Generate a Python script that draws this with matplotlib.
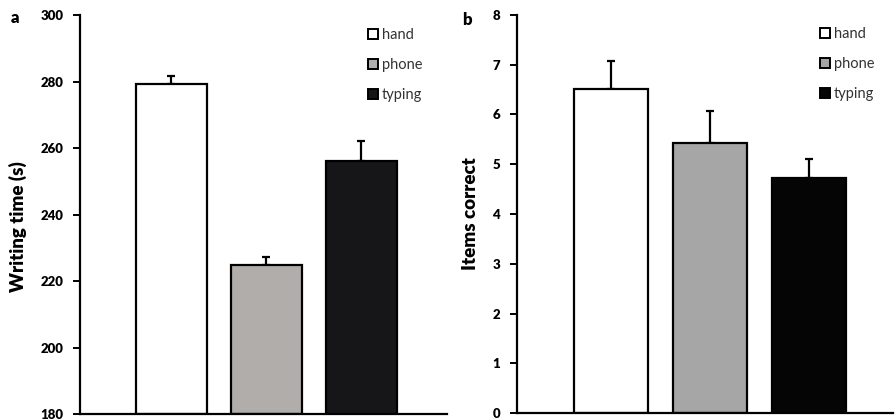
import matplotlib
matplotlib.use("Agg")
import matplotlib.pyplot as plt
from matplotlib.patches import Patch

plt.rcParams['font.family'] = ['Lato', 'DejaVu Sans']

categories = ["hand", "phone", "typing"]
time_means = [279.3, 224.8, 256.0]
time_err = [2.4, 2.5, 6.1]
items_means = [6.50, 5.43, 4.73]
items_err = [0.57, 0.63, 0.38]

colors_a = ["#ffffff", "#b1adab", "#161618"]
colors_b = ["#ffffff", "#a6a6a6", "#050505"]

fig = plt.figure(figsize=(8.96, 4.19), dpi=100)
W, H = 896, 419

def px_axes(l, r, t, b):
    return fig.add_axes([l / W, 1 - b / H, (r - l) / W, (b - t) / H])

ax_a = px_axes(80, 447, 15.3, 414)
ax_b = px_axes(516.7, 892.7, 14.7, 413.3)

def draw(ax, means, errs, colors, ylim, yticks, xlim, width, leg_anchor):
    x = list(range(len(means)))
    ax.bar(x, [m - ylim[0] for m in means], bottom=ylim[0], width=width,
           color=colors, edgecolor="black", linewidth=1.6, zorder=2)
    ax.errorbar(x, means, yerr=[[0] * len(errs), errs], fmt="none",
                ecolor="black", elinewidth=1.6, capsize=3, capthick=1.6, zorder=1)
    ax.set_ylim(*ylim)
    ax.set_xlim(*xlim)
    ax.set_yticks(yticks)
    ax.set_xticks([])
    for s in ["top", "right"]:
        ax.spines[s].set_visible(False)
    for s in ["left", "bottom"]:
        ax.spines[s].set_linewidth(1.6)
    ax.tick_params(axis="y", direction="out", length=5, width=1.4, pad=7,
                   labelsize=9.5)
    for lbl in ax.get_yticklabels():
        lbl.set_fontweight("heavy")
    handles = [Patch(facecolor=c, edgecolor="black", linewidth=1.4) for c in colors]
    leg = ax.legend(handles, categories, loc="upper left", frameon=False,
                    fontsize=10.5, handlelength=0.7, handleheight=0.7,
                    handletextpad=0.25, labelspacing=1.1,
                    bbox_to_anchor=leg_anchor, borderaxespad=0, borderpad=0)
    for t in leg.get_texts():
        t.set_color("#333333")

draw(ax_a, time_means, time_err, colors_a, (180, 300), [180, 200, 220, 240, 260, 280, 300],
     (-0.963, 2.905), 0.75, ((368 - 80) / 367, (414 - 28) / 398.7))
draw(ax_b, items_means, items_err, colors_b, (0, 8), list(range(0, 9)),
     (-0.953, 2.845), 0.74, ((820 - 516.7) / 376, (413.3 - 27) / 398.6))

fig.text(18 / W, 1 - 227 / H, "Writing time (s)", rotation=90, ha="center", va="center",
         fontsize=13.5, fontweight="heavy")
fig.text(470 / W, 1 - 214 / H, "Items correct", rotation=90, ha="center", va="center",
         fontsize=13.5, fontweight="heavy")
fig.text(15 / W, 1 - 18 / H, "a", ha="center", va="center", fontsize=12, fontweight="heavy")
fig.text(467 / W, 1 - 20 / H, "b", ha="center", va="center", fontsize=12, fontweight="heavy")

fig.savefig("out.png", dpi=100)
